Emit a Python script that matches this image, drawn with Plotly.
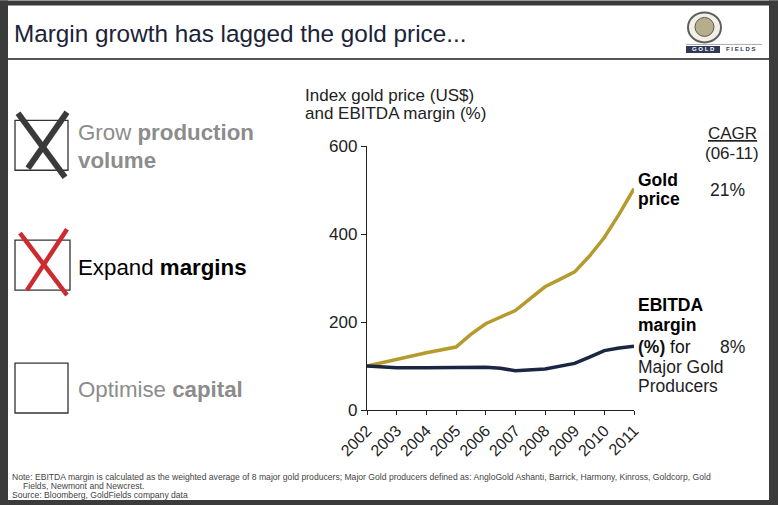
import plotly.graph_objects as go

# ---------------- data ----------------
gold_x = [2002, 2003, 2004, 2005, 2005.5, 2006, 2006.5, 2007, 2007.5, 2008, 2008.5, 2009, 2009.5, 2010, 2010.5, 2011]
gold_y = [100, 116, 130, 143, 172, 196, 210, 226, 253, 280, 297, 314, 350, 392, 445, 503]
ebitda_x = [2002, 2003, 2004, 2005, 2006, 2006.5, 2007, 2008, 2008.5, 2009, 2009.5, 2010, 2010.5, 2011]
ebitda_y = [100, 96, 96, 97, 97, 95, 89, 93, 99, 106, 120, 135, 141, 145]
year_ticks = [2002, 2003, 2004, 2005, 2006, 2007, 2008, 2009, 2010, 2011]
y_ticks = [0, 200, 400, 600]
cagr_gold = "21%"
cagr_ebitda = "8%"

W, H = 778, 505
L, R, T, B = 367, 634, 145.7, 410
FONT = "Arial, Liberation Sans, sans-serif"

def px(x):
    return (x - L) / (R - L)

def py(y):
    return (B - y) / (B - T)

fig = go.Figure()
fig.add_trace(go.Scatter(x=gold_x, y=gold_y, mode="lines",
                         line=dict(color="#b59a2e", width=3.5), cliponaxis=False,
                         showlegend=False, hoverinfo="skip"))
fig.add_trace(go.Scatter(x=ebitda_x, y=ebitda_y, mode="lines",
                         line=dict(color="#1a2642", width=3.5), cliponaxis=False,
                         showlegend=False, hoverinfo="skip"))

shapes = []
def rect(x0, y0, x1, y1, fill, lw=0, lc=None):
    shapes.append(dict(type="rect", xref="paper", yref="paper",
                       x0=px(x0), x1=px(x1), y0=py(y1), y1=py(y0),
                       fillcolor=fill, line=dict(width=lw, color=lc or fill), layer="above"))

def line(x0, y0, x1, y1, color, w):
    shapes.append(dict(type="line", xref="paper", yref="paper",
                       x0=px(x0), x1=px(x1), y0=py(y0), y1=py(y1),
                       line=dict(color=color, width=w), layer="above"))

# page border (dark frame)
BORDER = "#3b3b3b"
rect(0, 0, W, 5, BORDER)
rect(0, 0, 8, H, BORDER)
rect(769, 0, W, H, BORDER)
rect(0, 500, W, H, BORDER)
line(8, 58.5, 769, 58.5, "#555555", 2)

# checkboxes
for (y0, y1, x1) in [(120, 170, 68), (240, 290, 70), (363, 413, 68)]:
    shapes.append(dict(type="rect", xref="paper", yref="paper",
                       x0=px(15), x1=px(x1), y0=py(y1), y1=py(y0),
                       line=dict(color="#333333", width=1.3), layer="above"))
line(18, 113, 65, 177, "#3a3a3a", 6)
line(67, 112, 28, 168, "#3a3a3a", 6)
line(20, 233, 67, 295, "#cc2b2f", 4.5)
line(67, 229, 27, 290, "#cc2b2f", 4.5)

# logo
shapes.append(dict(type="circle", xref="paper", yref="paper",
                   x0=px(688), x1=px(721), y0=py(42), y1=py(12),
                   fillcolor="#f2efe6", line=dict(color="#5e5e5e", width=2), layer="above"))
shapes.append(dict(type="circle", xref="paper", yref="paper",
                   x0=px(695), x1=px(714), y0=py(36), y1=py(17),
                   fillcolor="#b8ad8a", line=dict(color="#5a5a5a", width=1), layer="above"))
rect(686, 45.5, 720, 52.5, "#2d3a55")
line(686, 44, 762, 44, "#aaaaaa", 1)

ann = []
def text(x, y, s, size, color="#000000", anchor="left", yanchor="middle", **kw):
    ann.append(dict(xref="paper", yref="paper", x=px(x), y=py(y), text=s,
                    showarrow=False, xanchor=anchor, yanchor=yanchor,
                    font=dict(family=FONT, size=size, color=color), **kw))

# header
text(12, 33, "Margin growth has lagged the gold price...", 24.3, "#1b2338")
text(703, 49, "<b>G O L D</b>", 6, "#ffffff", anchor="center")
text(741, 49, "<b>F I E L D S</b>", 6, "#2d3a55", anchor="center")

# left panel
G = "#8c8c8c"
text(76, 132, "Grow <b>production</b>", 22.3, G)
text(76, 160, "<b>volume</b>", 22.3, G)
text(76, 267, "Expand <b>margins</b>", 22.3, "#000000")
text(76, 389, "Optimise <b>capital</b>", 22.3, G)

# axis title
text(303, 95, "Index gold price (US$)", 17, "#222222")
text(303, 113, "and EBITDA margin (%)", 17, "#222222")

# right labels
text(732, 133, "<u>CAGR</u>", 17, "#222222", anchor="center")
text(732, 153, "(06-11)", 17, "#222222", anchor="center")
text(636, 180, "<b>Gold</b>", 17.5)
text(636, 199, "<b>price</b>", 17.5)
text(747, 190, cagr_gold, 17.5, "#222222", anchor="right")
text(636, 305, "<b>EBITDA</b>", 17.5)
text(636, 325, "<b>margin</b>", 17.5)
text(636, 347, "<b>(%)</b> for", 17.5, "#111111")
text(636, 367, "Major Gold", 17.5, "#222222")
text(636, 386, "Producers", 17.5, "#222222")
text(747, 347, cagr_ebitda, 17.5, "#222222", anchor="right")

# footnote
FN = "#444444"
text(10, 477, "Note: EBITDA margin is calculated as the weighted average of 8 major gold producers; Major Gold producers defined as: AngloGold Ashanti, Barrick, Harmony, Kinross, Goldcorp, Gold", 8.6, FN)
text(21, 486.5, "Fields, Newmont and Newcrest.", 8.6, FN)
text(10, 495.5, "Source: Bloomberg, GoldFields company data", 8.6, FN)

fig.update_layout(
    width=W, height=H,
    margin=dict(l=L, r=W - R, t=T, b=H - B, pad=0),
    paper_bgcolor="white", plot_bgcolor="white",
    shapes=shapes, annotations=ann,
    font=dict(family=FONT, color="#111111"),
    xaxis=dict(range=[2002, 2011], tickvals=year_ticks, ticktext=[str(v) for v in year_ticks],
               tickangle=-45, showline=True, linecolor="#222222", linewidth=1.3,
               ticks="outside", ticklen=4, tickcolor="#222222", showgrid=False, zeroline=False,
               tickfont=dict(size=16, color="#222222")),
    yaxis=dict(range=[0, 600], tickvals=y_ticks, showline=True, linecolor="#222222",
               linewidth=1.3, ticks="outside", ticklen=5, tickcolor="#222222",
               showgrid=False, zeroline=False, tickfont=dict(size=17, color="#222222")),
)

fig.write_html("out.html")
